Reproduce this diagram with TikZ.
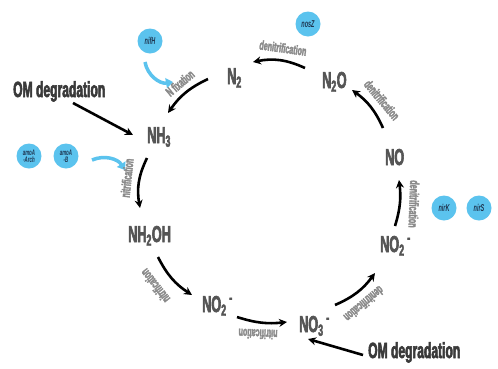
\documentclass[tikz,border=0pt]{standalone}
\usepackage{fontspec}
\usetikzlibrary{arrows.meta,calc}
\newfontfamily\condfont[FakeStretch=0.55, BoldFeatures={FakeBold=2.5}]{Liberation Sans}
\definecolor{cblue}{HTML}{5BC3EE}
\definecolor{navytxt}{HTML}{1E3550}
\definecolor{spgray}{HTML}{555555}
\definecolor{labgray}{HTML}{8A8A8A}
\definecolor{omgray}{HTML}{3A3A3A}
\tikzset{
  sp/.style={anchor=base west,inner sep=0pt,text=spgray,font=\condfont\bfseries\fontsize{23}{24}\selectfont},
  omtext/.style={anchor=base west,inner sep=0pt,text=omgray,font=\condfont\bfseries\fontsize{22}{24}\selectfont},
  lab/.style={inner sep=0pt,text=labgray,font=\condfont\bfseries\fontsize{13}{14}\selectfont},
  gene/.style={circle,fill=cblue,minimum size=25pt,inner sep=0pt,text=navytxt,align=center,
    font=\condfont\bfseries\itshape\fontsize{10}{8}\selectfont},
  smallgene/.style={gene,font=\condfont\bfseries\itshape\fontsize{8}{7}\selectfont},
  arr/.style={line width=2.6pt,black,-{Stealth[length=8pt,width=8pt]}},
  barr/.style={line width=3.5pt,cblue,-{Triangle[length=7pt,width=10pt]}}
}
\begin{document}
\begin{tikzpicture}[x=1pt,y=-1pt]
\useasboundingbox[fill=white] (0,0) rectangle (498,368);
% species
\node[sp] (N2) at (227,84) {N\textsubscript{2}};
\node[sp] (NH3) at (147,143) {NH\textsubscript{3}};
\node[sp] (NH2OH) at (128,242) {NH\textsubscript{2}OH};
\node[sp] (NO2b) at (202,312) {NO\textsubscript{2}\textsuperscript{\,-}};
\node[sp] (NO3) at (299,332) {NO\textsubscript{3}\textsuperscript{\,-}};
\node[sp] (NO2r) at (380,252) {NO\textsubscript{2}\textsuperscript{\,-}};
\node[sp] (NO) at (385,165) {NO};
\node[sp] (N2O) at (322,88) {N\textsubscript{2}O};
\node[omtext] (OMt) at (13,97) {OM degradation};
\node[omtext] (OMb) at (368,358) {OM degradation};
% genes
\node[gene] (nifH) at (150,41) {nifH};
\node[gene] (nosZ) at (308,24) {nosZ};
\node[smallgene] (amoAArch) at (29,156) {amoA\\-Arch};
\node[smallgene] (amoAB) at (66,156) {amoA\\-B};
\node[gene] (nirK) at (444,208) {nirK};
\node[gene] (nirS) at (479,208) {nirS};
% cycle arrows
\draw[arr] ($(N2.base west)+(-19,-5)$) to[bend right=15] ($(NH3.base west)+(21,-30)$);
\draw[arr] ($(N2O.base west)+(-17,-20)$) to[bend right=18] ($(N2.base west)+(26,-22)$);
\draw[arr] ($(NO.base west)+(-2,-37)$) to[bend right=15] ($(N2O.base west)+(30,2)$);
\draw[arr] ($(NO2r.base west)+(15,-26)$) to[bend right=12] ($(NO.base west)+(14,15)$);
\draw[arr] ($(NO3.base west)+(36,-27)$) to[bend right=15] ($(NO2r.base west)+(-5,21)$);
\draw[arr] ($(NO2b.base west)+(35,5)$) to[bend right=12] ($(NO3.base west)+(-12,-10)$);
\draw[arr] ($(NH2OH.base west)+(30,15)$) to[bend right=15] ($(NO2b.base west)+(-10,-17)$);
\draw[arr] ($(NH3.base west)+(0,15)$) to[bend right=18] ($(NH2OH.base west)+(12,-34)$);
\draw[arr] ($(OMt.base west)+(60,6)$) -- ($(NH3.base west)+(-14,-8)$);
\draw[arr] ($(OMb.base west)+(-5,-3)$) -- ($(NO3.base west)+(9,7)$);
% gene arrows
\draw[barr] ($(nifH)+(-5,21)$) to[bend right=45] ($(nifH)+(23,41)$);
\draw[barr] ($(amoAB)+(26,4)$) to[bend left=40] ($(amoAB)+(59,14)$);
% labels
\node[lab,rotate=40] (l1) at (180,83) {N fixation};
\node[lab,rotate=-8] (l2) at (283,48) {denitrification};
\node[lab,rotate=-50] (l3) at (382,100) {denitrification};
\node[lab,rotate=-92] (l4) at (414,204) {denitrification};
\node[lab,rotate=220] (l5) at (364,304) {denitrification};
\node[lab,rotate=178] (l6) at (258,334) {nitrification};
\node[lab,rotate=128] (l7) at (155,286) {nitrification};
\node[lab,rotate=84] (l8) at (127,178) {nitrification};
\end{tikzpicture}
\end{document}
